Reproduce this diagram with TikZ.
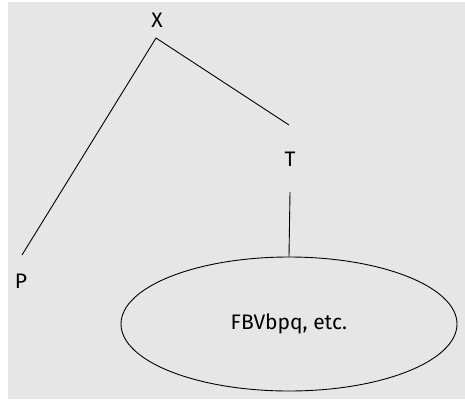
\documentclass[tikz,border=0pt]{standalone}
\usepackage{fontspec}
\setmainfont{Fira Sans}
\usetikzlibrary{shapes.geometric}
\definecolor{bg}{HTML}{E6E6E6}
\begin{document}
\begin{tikzpicture}[x=1pt,y=-1pt,
  lbl/.style={inner sep=0pt,font=\fontsize{21}{25}\selectfont},
  conn/.style={draw=black,line width=0.9pt}]
\useasboundingbox (0,0) rectangle (465,399);
\fill[bg] (8,2) rectangle (465,399);
\node[lbl] (X) at (157,20) {X};
\node[lbl] (T) at (290,159) {T};
\node[lbl] (P) at (21,281) {P};
\node[ellipse,draw,line width=0.9pt,minimum width=336pt,minimum height=134pt,inner sep=0pt,font=\fontsize{21}{25}\selectfont] (E) at (289,324) {FBVbpq, etc.};
\coordinate (Xb) at (156,38);
\coordinate (Pt) at (22,255);
\coordinate (Tt) at (289,125);
\coordinate (Tb) at (290,192);
\draw[conn] (Pt) -- (Xb) -- (Tt);
\draw[conn] (Tb) -- (E.north);
\end{tikzpicture}
\end{document}
